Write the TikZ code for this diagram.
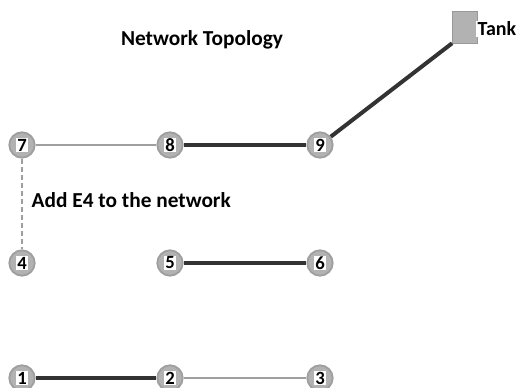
\documentclass[tikz,border=0pt]{standalone}
\usepackage{fontspec}
\setmainfont{Carlito}
\usetikzlibrary{positioning}

\begin{document}
\begin{tikzpicture}[x=0.75pt, y=-0.75pt]
        \tikzset{junction/.style={circle, fill=gray!60, draw=gray!75, line width=1.4pt,
        minimum size=19pt, inner sep=0pt, font=\bfseries\fontsize{14}{14}\selectfont}}
        \tikzset{pipe/.style={draw, line width=2.6pt, color=black!80}}
        \tikzset{thinpipe/.style={draw, line width=2pt, color=gray!75}}
        \setlength{\fboxsep}{0.6pt}

        \useasboundingbox (0,0) rectangle (522,388);

        \node [font=\bfseries\fontsize{16}{18}\selectfont] (title) at (202,40) {Network Topology};

        \node [junction] (J7) at (22,145) {\colorbox{white}{7}};
        \node [junction] (J8) at (170,145) {\colorbox{white}{8}};
        \node [junction] (J9) at (320,145) {\colorbox{white}{9}};
        \node [junction] (J4) at (22,263) {\colorbox{white}{4}};
        \node [junction] (J5) at (170,263) {\colorbox{white}{5}};
        \node [junction] (J6) at (320,263) {\colorbox{white}{6}};
        \node [junction] (J1) at (22,378) {\colorbox{white}{1}};
        \node [junction] (J2) at (170,378) {\colorbox{white}{2}};
        \node [junction] (J3) at (320,378) {\colorbox{white}{3}};

        \node [rectangle, fill=gray!60, draw=gray!80, minimum width=19pt, minimum height=24pt,
        inner sep=0pt] (T) at (465,27) {};
        \node [fill=white, anchor=west, inner sep=1pt, font=\bfseries\fontsize{15}{17}\selectfont]
        (Tlab) at (476,29) {Tank};

        \node [anchor=west, font=\bfseries\fontsize{16}{18}\selectfont] (note) at (27,200)
        {Add E4 to the network};

        \path [thinpipe] (J7) -- (J8);
        \path [pipe] (J8) -- (J9);
        \path [pipe, line width=3pt] (J9) -- (T.south west);
        \path [thinpipe, dash pattern=on 4pt off 2pt] (J7) -- (J4);
        \path [pipe, line width=3pt] (J5) -- (J6);
        \path [pipe] (J1) -- (J2);
        \path [thinpipe] (J2) -- (J3);
\end{tikzpicture}
\end{document}
